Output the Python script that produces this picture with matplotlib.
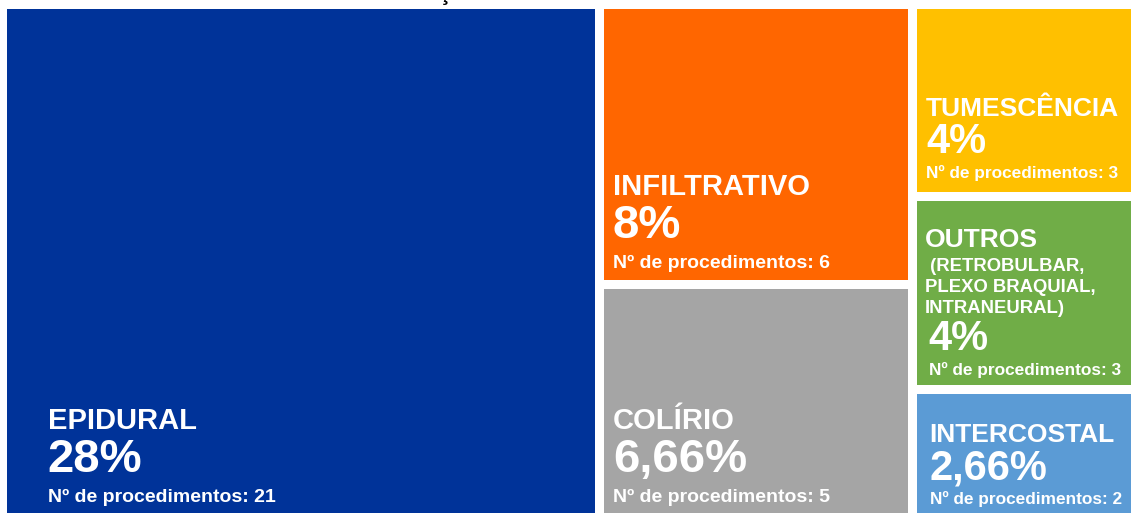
import matplotlib
matplotlib.use('Agg')
import matplotlib.pyplot as plt
from matplotlib.patches import Rectangle

# procedimentos anestésicos por técnica (total de 75 procedimentos)
tecnicas = ['EPIDURAL', 'INFILTRATIVO', 'COLÍRIO', 'TUMESCÊNCIA', 'OUTROS', 'INTERCOSTAL']
detalhes = ['', '', '', '', ' (RETROBULBAR,\nPLEXO BRAQUIAL,\nINTRANEURAL)', '']
procedimentos = [21, 6, 5, 3, 3, 2]
percentuais = ['28%', '8%', '6,66%', '4%', '4%', '2,66%']
cores = ['#003399', '#FF6600', '#A5A5A5', '#FFC000', '#70AD47', '#5B9BD5']
colunas = [[0], [1, 2], [3, 4, 5]]

W, H = 1131, 513
fig = plt.figure(figsize=(W / 100, H / 100), dpi=100)
ax = fig.add_axes([0, 0, 1, 1])
ax.set_xlim(-0.077, 39.70)
ax.set_ylim(0.9903, -0.0078)
ax.axis('off')

# espaço branco entre os blocos, em pixels
gap = 9
gx = gap / 2 * (39.70 + 0.077) / W
gy = gap / 2 * (0.9903 + 0.0078) / H

fonte = 'Liberation Sans'
grande = dict(nome=21, pct=34, num=14, d_pct=30, d_nome=43)
pequeno = dict(nome=19, pct=30, num=12.4, sub=13.3, d_pct=25, d_nome=37,
               d_sub=21, d_nome_sub=24)
xpad = [41, 9, 9, 9.5, 8, 13]
ypad = [11, 12, 11, 14, 10, 9]
recuo = [0, 0, 0, 0, 4, 0]  # recuo extra do percentual e da contagem

x0 = 0
for c, idx in enumerate(colunas):
    larg = sum(procedimentos[i] for i in idx)
    y0 = 0
    for i in idx:
        alt = procedimentos[i] / larg
        ax.add_patch(Rectangle((x0 + gx, y0 + gy), larg - 2 * gx, alt - 2 * gy,
                               facecolor=cores[i], edgecolor='none'))
        st = grande if c < 2 else pequeno
        canto = (x0 + gx, y0 + alt - gy)

        def escreve(txt, dx, dy, size):
            ax.annotate(txt, xy=canto, xytext=(xpad[i] + dx, dy), textcoords='offset pixels',
                        ha='left', va='baseline', color='white', fontsize=size,
                        fontweight='bold', family=fonte)

        dy = ypad[i]
        escreve('Nº de procedimentos: %d' % procedimentos[i], recuo[i], dy, st['num'])
        dy += st['d_pct']
        escreve(percentuais[i], recuo[i], dy, st['pct'])
        if detalhes[i]:
            linhas = detalhes[i].split('\n')
            dy += st['d_nome']
            for ln in reversed(linhas):
                escreve(ln, 0, dy, st['sub'])
                dy += st['d_sub']
            dy += st['d_nome_sub'] - st['d_sub']
        else:
            dy += st['d_nome']
        escreve(tecnicas[i], 0, dy, st['nome'])
        y0 += alt
    x0 += larg

# título (cortado na borda superior)
fig.text(444 / W, 1.0, 'ç', ha='center', va='baseline', fontsize=16,
         fontweight='bold', family=fonte, color='black')

fig.savefig('out.png', dpi=100)
